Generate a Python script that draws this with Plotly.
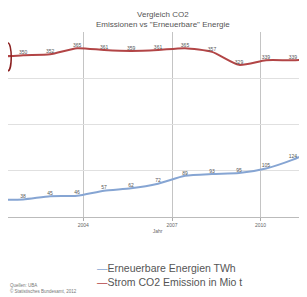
import plotly.graph_objects as go

years = [2000, 2001, 2002, 2003, 2004, 2005, 2006, 2007, 2008, 2009, 2010, 2011, 2012]
erneuerbare_twh = [37, 38, 45, 46, 57, 62, 72, 89, 93, 95, 105, 124, 150]
co2_mio_t = [346, 350, 352, 365, 361, 359, 361, 365, 357, 329, 339, 339, 343]
tick_vals = [2003.23, 2006.52, 2009.8]
tick_text = ["2004", "2007", "2010"]

x_min, x_max = 2000.44, 2011.52

def labels(vals):
    return [str(v) if x_min < yr < x_max else "" for yr, v in zip(years, vals)]

fig = go.Figure()
fig.add_trace(go.Scatter(
    x=years, y=co2_mio_t, mode="lines+text", name="Strom CO2 Emission in Mio t",
    line=dict(color="#b24546", width=2, shape="spline", smoothing=0.6),
    text=labels(co2_mio_t), textposition="top center",
    textfont=dict(size=5, color="#555555"), showlegend=False))
fig.add_trace(go.Scatter(
    x=years, y=erneuerbare_twh, mode="lines+text", name="Erneuerbare Energien TWh",
    line=dict(color="#86a5d3", width=2, shape="spline", smoothing=0.6),
    text=labels(erneuerbare_twh), textposition="top center",
    textfont=dict(size=5, color="#555555"), showlegend=False))

# highlight ellipse at start of the CO2 line
fig.add_shape(type="circle", xref="x", yref="y",
              x0=x_min - 0.12, x1=x_min + 0.12,
              y0=co2_mio_t[0] - 30, y1=co2_mio_t[0] + 30,
              line=dict(color="#8b2020", width=1.5))

fig.update_layout(
    width=299, height=289,
    margin=dict(l=0, r=0, t=24, b=80),
    paper_bgcolor="white", plot_bgcolor="white",
    font=dict(family="Liberation Sans, Arial, sans-serif", color="#555555"),
    xaxis=dict(range=[x_min, x_max], tickvals=tick_vals, ticktext=tick_text,
               showgrid=True, gridcolor="#c4c4c4", gridwidth=1,
               ticks="outside", ticklen=3, tickcolor="#aaaaaa",
               tickfont=dict(size=5, color="#666666"),
               showline=True, linecolor="#bbbbbb", linewidth=1,
               zeroline=False,
               title=dict(text="Jahr", font=dict(size=5, color="#666666"), standoff=2)),
    yaxis=dict(range=[0, 400], dtick=100, showgrid=True, gridcolor="#e0e0e0",
               showticklabels=False, zeroline=False, showline=False),
)

fig.add_annotation(xref="paper", yref="paper", x=0.52, y=1, xanchor="center", yanchor="bottom",
                   yshift=1, text="Vergleich CO2<br>Emissionen vs \"Erneuerbare\" Energie",
                   showarrow=False, font=dict(size=8, color="#555555"))

fig.add_annotation(xref="paper", yref="paper", x=0.29, y=-0.276, xanchor="left", yanchor="middle",
                   text='<span style="color:#86a5d3">—</span>Erneuerbare Energien TWh',
                   showarrow=False, font=dict(size=10.5, color="#555555"))
fig.add_annotation(xref="paper", yref="paper", x=0.29, y=-0.351, xanchor="left", yanchor="middle",
                   text='<span style="color:#b24546">—</span>Strom CO2 Emission in Mio t',
                   showarrow=False, font=dict(size=10.5, color="#555555"))
fig.add_annotation(xref="paper", yref="paper", x=0.0, y=-0.385, xanchor="left", yanchor="middle",
                   text="Quellen: UBA<br>© Statistisches Bundesamt, 2012",
                   showarrow=False, align="left", font=dict(size=4.5, color="#777777"))

fig.write_html("out.html")
